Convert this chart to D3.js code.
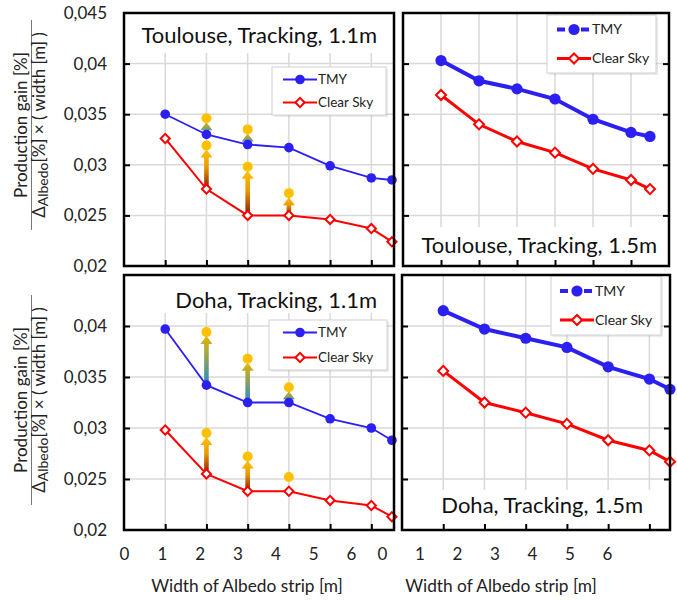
<!DOCTYPE html>
<html>
<head>
<meta charset="utf-8">
<script src="https://cdn.jsdelivr.net/npm/d3@7"></script>
<style>
body { margin: 0; background: #fff; }
svg { font-family: Lato, "Open Sans", sans-serif; }
</style>
</head>
<body>
<div id="chart"></div>
<script>
var widths = [1, 2, 3, 4, 5, 6, 6.5];
var yTicks = [0.02, 0.025, 0.03, 0.035, 0.04, 0.045];
var xTicks = [0, 1, 2, 3, 4, 5, 6];
var seriesNames = ["TMY", "Clear Sky"];

var toulouse11TMY   = [0.0350, 0.0330, 0.0320, 0.0317, 0.0299, 0.0287, 0.0285];
var toulouse11Clear = [0.0326, 0.0276, 0.0250, 0.0250, 0.0246, 0.0237, 0.0224];
var toulouse15TMY   = [0.0403, 0.0383, 0.0375, 0.0365, 0.0345, 0.0332, 0.0328];
var toulouse15Clear = [0.0369, 0.0340, 0.0323, 0.0312, 0.0296, 0.0285, 0.0276];
var doha11TMY   = [0.0397, 0.0342, 0.0325, 0.0325, 0.0309, 0.0300, 0.0288];
var doha11Clear = [0.0298, 0.0255, 0.0238, 0.0238, 0.0229, 0.0224, 0.0213];
var doha15TMY   = [0.0415, 0.0397, 0.0388, 0.0379, 0.0360, 0.0348, 0.0338];
var doha15Clear = [0.0356, 0.0325, 0.0315, 0.0304, 0.0288, 0.0278, 0.0267];

// yellow dots (gain) at widths 2, 3, 4 ; null = no dot
var gainWidths = [2, 3, 4];
var toulouse11TMYGain   = [0.0346, 0.0335, null];
var toulouse11ClearGain = [0.0319, 0.0298, 0.0272];
var doha11TMYGain   = [0.0394, 0.0368, 0.0340];
var doha11ClearGain = [0.0295, 0.0272, 0.0252];
// widths where an arrow is drawn
var toulouse11TMYArrows   = [2, 3];
var toulouse11ClearArrows = [2, 3, 4];
var doha11TMYArrows   = [2, 3, 4];
var doha11ClearArrows = [2, 3];

var blue = "#2b1ff2", red = "#ff0000", gold = "#ffc000";
var fmt = d3.formatLocale({decimal: ",", thousands: ".", grouping: [3], currency: ["", ""]}).format(".3~f");

var svg = d3.select("#chart").append("svg")
    .attr("width", 677)
    .attr("height", 600);

var defs = svg.append("defs");
var g1 = defs.append("linearGradient").attr("id", "gradClear")
    .attr("x1", 0).attr("y1", 0).attr("x2", 0).attr("y2", 1);
g1.append("stop").attr("offset", 0).attr("stop-color", "#ffc000");
g1.append("stop").attr("offset", 0.45).attr("stop-color", "#e89a00");
g1.append("stop").attr("offset", 1).attr("stop-color", "#8a1200");
var g2 = defs.append("linearGradient").attr("id", "gradTMY")
    .attr("x1", 0).attr("y1", 0).attr("x2", 0).attr("y2", 1);
g2.append("stop").attr("offset", 0).attr("stop-color", "#e6b400");
g2.append("stop").attr("offset", 1).attr("stop-color", "#1f8cc8");

var panels = [
  {title: "Toulouse, Tracking, 1.1m", tmy: toulouse11TMY, clear: toulouse11Clear,
   left: 124, right: 394, top: 13, bottom: 266, xMax: 6.55, bold: false, rightTicks: false,
   titleBox: [13, 53], titleX: 377, titleY: 43,
   legend: {x: 272, y: 67, w: 114, h: 48, lx: 283, gap: 23},
   gains: [[toulouse11TMYGain, toulouse11TMY, toulouse11TMYArrows, "gradTMY"],
           [toulouse11ClearGain, toulouse11Clear, toulouse11ClearArrows, "gradClear"]]},
  {title: "Toulouse, Tracking, 1.5m", tmy: toulouse15TMY, clear: toulouse15Clear,
   left: 403, right: 669, top: 13, bottom: 266, xMax: 7.0, bold: true, rightTicks: true,
   titleBox: [227, 266], titleX: 657, titleY: 253,
   legend: {x: 547, y: 15, w: 109, h: 58, lx: 557, gap: 29},
   gains: []},
  {title: "Doha, Tracking, 1.1m", tmy: doha11TMY, clear: doha11Clear,
   left: 124, right: 394, top: 275, bottom: 530, xMax: 6.55, bold: false, rightTicks: false,
   titleBox: [275, 313], titleX: 377, titleY: 308,
   legend: {x: 269, y: 320, w: 118, h: 50, lx: 283, gap: 25},
   gains: [[doha11TMYGain, doha11TMY, doha11TMYArrows, "gradTMY"],
           [doha11ClearGain, doha11Clear, doha11ClearArrows, "gradClear"]]},
  {title: "Doha, Tracking, 1.5m", tmy: doha15TMY, clear: doha15Clear,
   left: 402, right: 670, top: 275, bottom: 530, xMax: 6.5, bold: true, rightTicks: true,
   titleBox: [490, 530], titleX: 643, titleY: 513,
   legend: {x: 551, y: 276, w: 110, h: 59, lx: 560, gap: 29},
   gains: []}
];

function diamond(sel, size, sw) {
  sel.attr("d", d3.symbol(d3.symbolSquare, size)())
     .attr("fill", "#fff").attr("stroke", red).attr("stroke-width", sw);
}

panels.forEach(function(p) {
  var x = d3.scaleLinear().domain([0, p.xMax]).range([p.left, p.right]);
  var y = d3.scaleLinear().domain([0.02, 0.045]).range([p.bottom, p.top]);
  var g = svg.append("g");

  // grid
  g.selectAll(".vgrid").data(xTicks.slice(1)).enter().append("line")
      .attr("x1", d => x(d)).attr("x2", d => x(d))
      .attr("y1", p.top).attr("y2", p.bottom)
      .attr("stroke", "#d9d9d9").attr("stroke-width", 1.5);
  g.selectAll(".hgrid").data(yTicks.slice(1, -1)).enter().append("line")
      .attr("x1", p.left).attr("x2", p.right)
      .attr("y1", d => y(d)).attr("y2", d => y(d))
      .attr("stroke", "#d9d9d9").attr("stroke-width", 1.5);

  // title backdrop
  g.append("rect").attr("x", p.left + 1).attr("width", p.right - p.left - 2)
      .attr("y", p.titleBox[0]).attr("height", p.titleBox[1] - p.titleBox[0])
      .attr("fill", "#fff");

  // inside ticks
  var ax = g.append("g").attr("transform", "translate(0," + p.bottom + ")")
      .call(d3.axisBottom(x).tickValues(xTicks.slice(1)).tickSize(-6).tickFormat(""));
  var ay = g.append("g").attr("transform", "translate(" + p.left + ",0)")
      .call(d3.axisLeft(y).tickValues(yTicks.slice(1, -1)).tickSize(-6).tickFormat(""));
  var axes = [ax, ay];
  if (p.rightTicks) {
    axes.push(g.append("g").attr("transform", "translate(" + p.right + ",0)")
      .call(d3.axisRight(y).tickValues(yTicks.slice(1, -1)).tickSize(-6).tickFormat("")));
  }
  axes.forEach(function(a) {
    a.select(".domain").remove();
    a.selectAll("line").attr("stroke", "#000").attr("stroke-width", 2);
  });

  var line = d3.line().x((d, i) => x(widths[i])).y(d => y(d));

  // arrows
  p.gains.forEach(function(gs) {
    var dots = gs[0], base = gs[1], arrows = gs[2];
    arrows.forEach(function(w) {
      var k = gainWidths.indexOf(w);
      var cx = x(w), y0 = y(base[widths.indexOf(w)]), yt = y(dots[k]) + 4;
      var hl = 8, hw = 6, sw = 2.3;
      g.append("path")
        .attr("d", "M" + (cx - sw) + "," + y0 + "L" + (cx - sw) + "," + (yt + hl) +
                   "L" + (cx - hw) + "," + (yt + hl) + "L" + cx + "," + yt +
                   "L" + (cx + hw) + "," + (yt + hl) + "L" + (cx + sw) + "," + (yt + hl) +
                   "L" + (cx + sw) + "," + y0 + "Z")
        .attr("fill", "url(#" + gs[3] + ")");
    });
  });

  // lines
  g.append("path").datum(p.clear).attr("d", line)
      .attr("fill", "none").attr("stroke", red).attr("stroke-width", p.bold ? 3 : 2);
  g.append("path").datum(p.tmy).attr("d", line)
      .attr("fill", "none").attr("stroke", blue).attr("stroke-width", p.bold ? 4 : 1.8);

  // markers
  g.selectAll(".cs").data(p.clear).enter().append("path")
      .attr("transform", (d, i) => "translate(" + x(widths[i]) + "," + y(d) + ") rotate(45)")
      .call(diamond, p.bold ? 50 : 42, 2);
  g.selectAll(".tm").data(p.tmy).enter().append("circle")
      .attr("cx", (d, i) => x(widths[i])).attr("cy", d => y(d))
      .attr("r", p.bold ? 5.6 : 4.8).attr("fill", blue);

  // gain dots
  p.gains.forEach(function(gs) {
    g.selectAll(null).data(gs[0].map((v, i) => [gainWidths[i], v]).filter(d => d[1] !== null))
      .enter().append("circle")
      .attr("cx", d => x(d[0])).attr("cy", d => y(d[1]))
      .attr("r", 5).attr("fill", gold);
  });

  // legend
  var L = p.legend;
  g.append("rect").attr("x", L.x + 2).attr("y", L.y + 2).attr("width", L.w).attr("height", L.h)
      .attr("fill", "#000").attr("opacity", 0.08);
  g.append("rect").attr("x", L.x).attr("y", L.y).attr("width", L.w).attr("height", L.h)
      .attr("fill", "#fff").attr("stroke", "#d0d0d0").attr("stroke-width", 1);
  var ly1 = L.y + (L.h - L.gap) / 2, ly2 = ly1 + L.gap, llen = 34;
  g.append("line").attr("x1", L.lx).attr("x2", L.lx + llen).attr("y1", ly1).attr("y2", ly1)
      .attr("stroke", blue).attr("stroke-width", p.bold ? 4 : 1.8)
      .attr("stroke-dasharray", p.bold ? "8,4" : null);
  g.append("circle").attr("cx", L.lx + llen / 2).attr("cy", ly1)
      .attr("r", p.bold ? 5.6 : 4.8).attr("fill", blue);
  g.append("line").attr("x1", L.lx).attr("x2", L.lx + llen).attr("y1", ly2).attr("y2", ly2)
      .attr("stroke", red).attr("stroke-width", p.bold ? 3 : 2);
  g.append("path").attr("transform", "translate(" + (L.lx + llen / 2) + "," + ly2 + ") rotate(45)")
      .call(diamond, p.bold ? 50 : 42, 2);
  g.selectAll(".lt").data(seriesNames).enter().append("text")
      .attr("x", L.lx + llen + 1).attr("y", (d, i) => i ? ly2 : ly1).attr("dy", "0.35em")
      .attr("font-size", p.bold ? 14 : 13.5).attr("fill", "#222").text(d => d);

  // title
  g.append("text").attr("x", p.titleX).attr("y", p.titleY).attr("text-anchor", "end")
      .attr("font-size", 22).attr("fill", "#111").text(p.title);

  // frame
  g.append("rect").attr("x", p.left).attr("y", p.top)
      .attr("width", p.right - p.left).attr("height", p.bottom - p.top)
      .attr("fill", "none").attr("stroke", "#000").attr("stroke-width", 2.5);

  // y tick labels for left panels
  if (p.left < 200) {
    var yl = g.append("g").attr("transform", "translate(107,0)")
        .call(d3.axisLeft(y).tickValues(p.top < 100 ? yTicks : yTicks.slice(0, -1))
              .tickSize(0).tickPadding(0).tickFormat(fmt));
    yl.select(".domain").remove();
    yl.selectAll("text").attr("font-size", 17).attr("fill", "#222")
        .attr("font-family", "Lato, sans-serif");
  }
});

// x tick labels and titles (placed under both columns)
[[124, 351, 247], [382, 607, 501]].forEach(function(c) {
  var xl = d3.scaleLinear().domain([0, 6]).range([c[0], c[1]]);
  var a = svg.append("g").attr("transform", "translate(0,548)")
      .call(d3.axisBottom(xl).tickValues(xTicks).tickSize(0).tickPadding(0).tickFormat(d3.format("d")));
  a.select(".domain").remove();
  a.selectAll("text").attr("font-size", 17).attr("fill", "#222")
      .attr("font-family", "Lato, sans-serif");
  svg.append("text").attr("x", c[2]).attr("y", 592).attr("text-anchor", "middle")
      .attr("font-size", 17.3).attr("fill", "#222").text("Width of Albedo strip [m]");
});

// y axis label (fraction)
[125, 400].forEach(function(cy) {
  var g = svg.append("g").attr("transform", "translate(0," + cy + ") rotate(-90)");
  g.append("text").attr("x", 0).attr("y", 27).attr("text-anchor", "middle")
      .attr("font-size", 17).attr("fill", "#222").text("Production gain [%]");
  g.append("line").attr("x1", -105).attr("x2", 105).attr("y1", 31.5).attr("y2", 31.5)
      .attr("stroke", "#777").attr("stroke-width", 1);
  var t = g.append("text").attr("x", 0).attr("y", 45).attr("text-anchor", "middle")
      .attr("font-size", 17).attr("fill", "#222");
  t.append("tspan").text("Δ");
  t.append("tspan").attr("font-size", 14).attr("dy", 3).text("Albedo");
  t.append("tspan").attr("dy", -3).attr("xml:space", "preserve").text("[%] × ( width [m] )");
});
</script>
</body>
</html>
